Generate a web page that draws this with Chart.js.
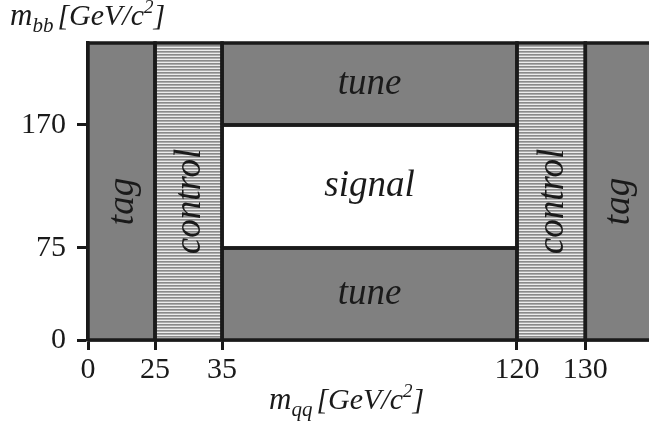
<!DOCTYPE html>
<html>
<head>
<meta charset="utf-8">
<script src="https://cdn.jsdelivr.net/npm/chart.js@4.4.1/dist/chart.umd.min.js"></script>
<style>
  html, body { margin: 0; padding: 0; background: #fff; }
  #wrap { width: 649px; height: 428px; position: relative; }
</style>
</head>
<body>
<div id="wrap"><canvas id="myChart"></canvas></div>
<script>
// mass windows, GeV/c^2
var xTicks = [0, 25, 35, 120, 130];
var yTicks = [0, 75, 170];

// regions of the (m_qq, m_bb) plane
var regionNames = ['tag', 'control', 'tune', 'signal', 'tune', 'control', 'tag'];
var regionX0 = [0, 25, 35, 35, 35, 120, 130];
var regionX1 = [25, 35, 120, 120, 120, 130, 150];
var regionY0 = [0, 0, 170, 75, 0, 0, 0];
var regionY1 = [220, 220, 220, 170, 75, 220, 220];
var regionKind = ['dark', 'hatch', 'dark', 'white', 'dark', 'hatch', 'dark'];

// the axes are not to scale: where each break sits on the drawing (in steps)
var xBreaks = [0, 25, 35, 120, 130, 150];
var xSteps  = [0, 1, 2, 6.4, 7.42, 8.5];
var yBreaks = [0, 75, 170, 220];
var ySteps  = [0, 1, 2.337, 3.228];
var xMaxStep = 8.37;

var INK = '#1a1a1a';
var SERIF = '"Liberation Serif", "DejaVu Serif", serif';

function warp(v, br, st) {
  for (var i = 1; i < br.length; i++) {
    if (v <= br[i] || i == br.length - 1) {
      return st[i - 1] + (v - br[i - 1]) / (br[i] - br[i - 1]) * (st[i] - st[i - 1]);
    }
  }
}
function wx(v) { return warp(v, xBreaks, xSteps); }
function wy(v) { return warp(v, yBreaks, ySteps); }

// horizontal line hatching for the control regions
function hatchPattern() {
  var c = document.createElement('canvas');
  c.width = 4; c.height = 3;
  var g = c.getContext('2d');
  g.fillStyle = '#ececec'; g.fillRect(0, 0, 4, 3);
  g.fillStyle = '#8a8a8a'; g.fillRect(0, 0, 4, 1);
  g.fillStyle = '#acacac'; g.fillRect(0, 1, 4, 1);
  return g.createPattern(c, 'repeat');
}
var hatch = hatchPattern();
function fillFor(kind) {
  if (kind == 'dark') return '#808080';
  if (kind == 'hatch') return hatch;
  return '#ffffff';
}

var datasets = [];
regionNames.forEach(function(name, i) {
  // filled area
  datasets.push({
    type: 'line',
    data: [{x: wx(regionX0[i]), y: wy(regionY1[i])}, {x: wx(regionX1[i]), y: wy(regionY1[i])}],
    fill: {value: wy(regionY0[i])},
    backgroundColor: fillFor(regionKind[i]),
    borderWidth: 0,
    pointRadius: 0,
    order: 2
  });
  // outline
  datasets.push({
    type: 'line',
    data: [
      {x: wx(regionX0[i]), y: wy(regionY0[i])},
      {x: wx(regionX0[i]), y: wy(regionY1[i])},
      {x: wx(regionX1[i]), y: wy(regionY1[i])},
      {x: wx(regionX1[i]), y: wy(regionY0[i])},
      {x: wx(regionX0[i]), y: wy(regionY0[i])}
    ],
    fill: false,
    borderColor: INK,
    borderWidth: 3.5,
    borderJoinStyle: 'miter',
    pointRadius: 0,
    tension: 0,
    clip: false,
    order: 1
  });
});

// region names
var regionText = {
  id: 'regionText',
  afterDatasetsDraw: function(chart) {
    var ctx = chart.ctx, xs = chart.scales.x, ys = chart.scales.y;
    ctx.save();
    ctx.fillStyle = INK;
    ctx.font = 'italic 37px ' + SERIF;
    ctx.textAlign = 'center';
    ctx.textBaseline = 'middle';
    regionNames.forEach(function(name, i) {
      var px = (xs.getPixelForValue(wx(regionX0[i])) + Math.min(xs.getPixelForValue(wx(regionX1[i])), chart.chartArea.right)) / 2;
      var py = (ys.getPixelForValue(wy(regionY0[i])) + Math.max(ys.getPixelForValue(wy(regionY1[i])), chart.chartArea.top)) / 2;
      ctx.save();
      if (regionY1[i] - regionY0[i] > 200) {
        ctx.translate(px + 2, py + 10);
        ctx.rotate(-Math.PI / 2);
        ctx.fillText(name, 0, 0);
      } else {
        ctx.fillText(name, px, py);
      }
      ctx.restore();
    });
    ctx.restore();
  }
};

// axis titles m_bb [GeV/c^2] and m_qq [GeV/c^2]
function massTitle(ctx, x, base, sub) {
  var parts = [
    ['m', 31, 0], [sub, 21, 7], ['[GeV/c', 30, 0], ['2', 19, -12], [']', 30, 0]
  ];
  ctx.textAlign = 'left';
  ctx.textBaseline = 'alphabetic';
  parts.forEach(function(p, k) {
    ctx.font = 'italic ' + p[1] + 'px ' + SERIF;
    ctx.fillText(p[0], x, base + p[2]);
    x += ctx.measureText(p[0]).width + (k == 1 ? 4 : 0);
  });
}
var axisTitles = {
  id: 'axisTitles',
  afterDraw: function(chart) {
    var ctx = chart.ctx;
    ctx.save();
    ctx.fillStyle = INK;
    massTitle(ctx, 10, 25, 'bb');
    massTitle(ctx, 269, 409, 'qq');
    ctx.restore();
  }
};

var ctx = document.getElementById('myChart').getContext('2d');
var chart = new Chart(ctx, {
  type: 'line',
  data: { datasets: datasets },
  options: {
    responsive: true,
    maintainAspectRatio: false,
    animation: false,
    layout: { padding: { top: 43, right: 0, left: 0, bottom: 0 } },
    plugins: { legend: { display: false }, tooltip: { enabled: false } },
    scales: {
      x: {
        type: 'linear',
        min: 0,
        max: xMaxStep,
        z: 1,
        grid: { drawOnChartArea: false, drawTicks: true, tickLength: 10, tickWidth: 3, tickColor: INK },
        border: { display: true, color: INK, width: 3.5 },
        ticks: {
          font: { family: SERIF, size: 30 },
          color: INK,
          padding: 2,
          maxRotation: 0,
          autoSkip: false,
          callback: function(v, i) { return xTicks[i]; }
        },
        afterBuildTicks: function(s) { s.ticks = xTicks.map(function(v) { return {value: wx(v)}; }); },
        afterFit: function(s) { s.height = 88; }
      },
      y: {
        type: 'linear',
        min: 0,
        max: ySteps[ySteps.length - 1],
        z: 1,
        grid: { drawOnChartArea: false, drawTicks: true, tickLength: 11, tickWidth: 3, tickColor: INK },
        border: { display: true, color: INK, width: 3.5 },
        ticks: {
          font: { family: SERIF, size: 30 },
          color: INK,
          padding: 11,
          autoSkip: false,
          callback: function(v, i) { return yTicks[i]; }
        },
        afterBuildTicks: function(s) { s.ticks = yTicks.map(function(v) { return {value: wy(v)}; }); },
        afterFit: function(s) { s.width = 88; }
      }
    }
  },
  plugins: [regionText, axisTitles]
});
</script>
</body>
</html>
